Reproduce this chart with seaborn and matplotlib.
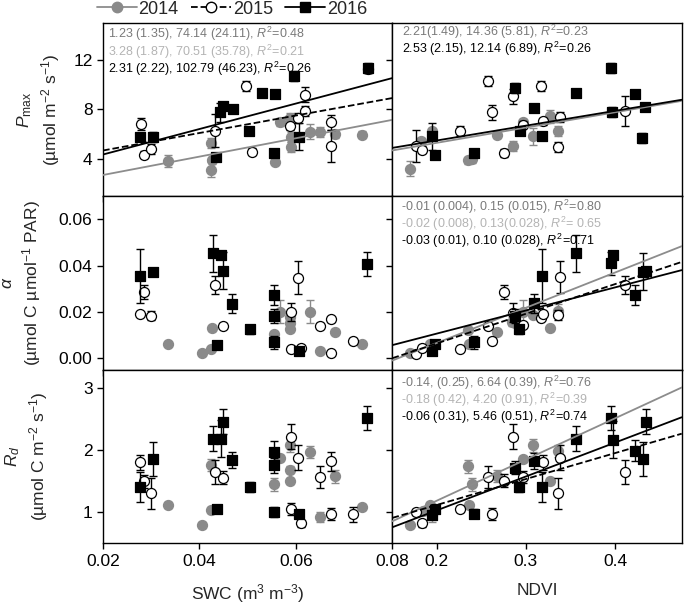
import matplotlib
matplotlib.use("Agg")
import matplotlib.pyplot as plt
from matplotlib.lines import Line2D
import numpy as np
import pandas as pd
import seaborn as sns

years = ["2014", "2015", "2016"]

# Pmax vs SWC
pmaxSwcX14 = [0.0335, 0.0423, 0.0423, 0.0427, 0.0557, 0.0566, 0.0587, 0.0589, 0.0590, 0.0630, 0.0650, 0.0682, 0.0738]
pmaxSwcY14 = [3.82, 3.15, 5.30, 3.90, 3.80, 7.00, 7.30, 5.80, 4.95, 6.20, 6.20, 6.00, 5.97]
pmaxSwcE14 = [0.5, 0.6, 0.4, 0.3, 0.2, 0.3, 0.4, 0.4, 0.4, 0.6, 0.4, 0.3, 0.3]
pmaxSwcX15 = [0.0278, 0.0285, 0.0299, 0.0432, 0.0497, 0.0509, 0.0587, 0.0604, 0.0618, 0.0618, 0.0672, 0.0672, 0.0750]
pmaxSwcY15 = [6.85, 4.36, 4.80, 6.30, 9.90, 4.60, 6.64, 7.30, 9.20, 7.85, 6.96, 5.08, 11.25]
pmaxSwcE15 = [0.5, 0.3, 0.4, 1.3, 0.4, 0.3, 0.3, 0.4, 0.6, 0.4, 0.6, 1.3, 0.3]
pmaxSwcX16 = [0.0276, 0.0304, 0.0434, 0.0443, 0.0449, 0.0469, 0.0502, 0.0530, 0.0555, 0.0556, 0.0595, 0.0606, 0.0749]
pmaxSwcY16 = [5.80, 5.80, 4.20, 7.76, 8.25, 8.06, 6.23, 9.32, 4.50, 9.27, 10.70, 5.80, 11.35]
pmaxSwcE16 = [0.3, 0.4, 0.3, 0.8, 0.3, 0.3, 0.3, 0.3, 0.3, 0.3, 0.4, 1.1, 0.4]

# Pmax vs NDVI
pmaxNdviX14 = [0.1693, 0.182, 0.1944, 0.2355, 0.239, 0.267, 0.286, 0.297, 0.3077, 0.327, 0.3364]
pmaxNdviY14 = [3.21, 5.43, 6.24, 3.9, 4.0, 5.97, 5.03, 6.96, 5.83, 7.44, 6.24]
pmaxNdviE14 = [0.6, 0.3, 0.3, 0.3, 0.3, 0.3, 0.4, 0.3, 0.7, 0.5, 0.4]
pmaxNdviX15 = [0.1768, 0.183, 0.226, 0.257, 0.2617, 0.2755, 0.285, 0.297, 0.317, 0.3196, 0.338, 0.3357, 0.411]
pmaxNdviY15 = [5.08, 4.76, 6.29, 10.26, 7.76, 4.5, 9.05, 6.77, 9.9, 7.04, 7.4, 4.95, 7.9]
pmaxNdviE15 = [1.3, 0.3, 0.4, 0.4, 0.6, 0.3, 0.6, 0.3, 0.4, 0.3, 0.4, 0.4, 1.2]
pmaxNdviX16 = [0.1944, 0.198, 0.242, 0.288, 0.293, 0.309, 0.3185, 0.356, 0.3955, 0.397, 0.4224, 0.43, 0.4336]
pmaxNdviY16 = [5.83, 4.36, 4.5, 9.72, 6.29, 8.11, 5.83, 9.32, 11.33, 7.76, 9.27, 5.7, 8.2]
pmaxNdviE16 = [1.1, 0.3, 0.3, 0.4, 0.3, 0.3, 0.3, 0.3, 0.4, 0.4, 0.3, 0.4, 0.3]

# alpha vs SWC
alphaSwcX14 = [0.0335, 0.0405, 0.0423, 0.0427, 0.0555, 0.0568, 0.0587, 0.0588, 0.0588, 0.063, 0.065, 0.0682, 0.0738]
alphaSwcY14 = [0.0062, 0.0024, 0.0039, 0.0129, 0.0105, 0.0201, 0.0154, 0.0125, 0.018, 0.0201, 0.0033, 0.0115, 0.0062]
alphaSwcE14 = [0.001, 0.001, 0.001, 0.001, 0.001, 0.005, 0.002, 0.001, 0.002, 0.005, 0.001, 0.001, 0.001]
alphaSwcX15 = [0.0276, 0.0285, 0.0299, 0.0432, 0.0448, 0.0589, 0.0589, 0.0604, 0.0611, 0.065, 0.0672, 0.0672, 0.0719]
alphaSwcY15 = [0.0191, 0.0285, 0.0184, 0.0317, 0.014, 0.0199, 0.0039, 0.0348, 0.0046, 0.014, 0.0168, 0.0022, 0.0076]
alphaSwcE15 = [0.001, 0.003, 0.002, 0.004, 0.001, 0.004, 0.001, 0.007, 0.001, 0.001, 0.001, 0.001, 0.001]
alphaSwcX16 = [0.0276, 0.0304, 0.0429, 0.0436, 0.0444, 0.0448, 0.0468, 0.0504, 0.0555, 0.0555, 0.0555, 0.0606, 0.0748]
alphaSwcY16 = [0.0355, 0.0371, 0.0453, 0.0058, 0.0446, 0.0378, 0.0236, 0.0125, 0.0273, 0.0183, 0.0068, 0.0029, 0.0407]
alphaSwcE16 = [0.0115, 0.001, 0.008, 0.001, 0.001, 0.008, 0.004, 0.002, 0.0045, 0.003, 0.003, 0.001, 0.005]

# alpha vs NDVI
alphaNdviX14 = [0.1693, 0.1918, 0.2344, 0.2366, 0.2673, 0.284, 0.2879, 0.2972, 0.3084, 0.3271, 0.3364]
alphaNdviY14 = [0.0022, 0.0062, 0.0122, 0.0062, 0.0115, 0.0158, 0.0151, 0.0201, 0.0187, 0.0129, 0.0206]
alphaNdviE14 = [0.001, 0.001, 0.001, 0.001, 0.001, 0.002, 0.001, 0.005, 0.001, 0.001, 0.003]
alphaNdviX15 = [0.1768, 0.1832, 0.2262, 0.2572, 0.2617, 0.2755, 0.2852, 0.2972, 0.317, 0.3196, 0.3357, 0.3383, 0.4112]
alphaNdviY15 = [0.0019, 0.0046, 0.0039, 0.0137, 0.0076, 0.0285, 0.0197, 0.0144, 0.0173, 0.0191, 0.0187, 0.035, 0.0317]
alphaNdviE15 = [0.001, 0.001, 0.001, 0.001, 0.001, 0.003, 0.004, 0.001, 0.001, 0.001, 0.002, 0.007, 0.004]
alphaNdviX16 = [0.1944, 0.1981, 0.2422, 0.2879, 0.2927, 0.3092, 0.3185, 0.3563, 0.3955, 0.3974, 0.4224, 0.431, 0.4344]
alphaNdviY16 = [0.0029, 0.0062, 0.0068, 0.0183, 0.0125, 0.0237, 0.0355, 0.0453, 0.041, 0.0446, 0.0273, 0.0374, 0.0378]
alphaNdviE16 = [0.001, 0.001, 0.003, 0.003, 0.002, 0.004, 0.0115, 0.008, 0.005, 0.001, 0.0045, 0.008, 0.001]

# Rd vs SWC
rdSwcX14 = [0.0335, 0.0405, 0.0423, 0.0423, 0.0555, 0.0568, 0.0587, 0.0588, 0.0588, 0.063, 0.065, 0.0682, 0.0738]
rdSwcY14 = [1.12, 0.8, 1.76, 1.04, 1.45, 1.88, 2.08, 1.69, 1.51, 1.97, 0.93, 1.58, 1.09]
rdSwcE14 = [0.05, 0.05, 0.1, 0.05, 0.1, 0.05, 0.1, 0.05, 0.05, 0.1, 0.08, 0.1, 0.05]
rdSwcX15 = [0.0276, 0.0285, 0.0299, 0.0432, 0.0448, 0.0589, 0.0589, 0.0604, 0.0611, 0.065, 0.0672, 0.0672, 0.0719]
rdSwcY15 = [1.81, 1.5, 1.31, 1.65, 1.56, 2.22, 1.05, 1.88, 0.82, 1.57, 1.82, 0.97, 0.97]
rdSwcE15 = [0.12, 0.1, 0.25, 0.2, 0.1, 0.2, 0.1, 0.2, 0.05, 0.18, 0.15, 0.1, 0.12]
rdSwcX16 = [0.0276, 0.0304, 0.0429, 0.0436, 0.0444, 0.0448, 0.0468, 0.0504, 0.0555, 0.0555, 0.0555, 0.0607, 0.0748]
rdSwcY16 = [1.41, 1.86, 2.19, 1.05, 2.19, 2.46, 1.84, 1.41, 1.98, 1.76, 1.0, 0.98, 2.52]
rdSwcE16 = [0.24, 0.28, 0.2, 0.05, 0.3, 0.2, 0.13, 0.08, 0.17, 0.12, 0.08, 0.05, 0.19]

# Rd vs NDVI
rdNdviX14 = [0.1693, 0.1843, 0.1918, 0.1944, 0.2344, 0.2366, 0.2393, 0.2673, 0.2879, 0.2972, 0.3084, 0.3271, 0.3364]
rdNdviY14 = [0.8, 1.02, 1.11, 0.95, 1.74, 1.12, 1.45, 1.59, 1.72, 1.86, 2.08, 1.51, 1.99]
rdNdviE14 = [0.05, 0.05, 0.05, 0.1, 0.1, 0.05, 0.1, 0.1, 0.05, 0.05, 0.1, 0.05, 0.1]
rdNdviX15 = [0.1768, 0.1832, 0.2262, 0.2572, 0.2617, 0.2755, 0.2852, 0.2972, 0.3196, 0.3357, 0.3383, 0.4112]
rdNdviY15 = [1.0, 0.82, 1.05, 1.57, 0.97, 1.51, 2.22, 1.57, 1.81, 1.31, 1.88, 1.65]
rdNdviE15 = [0.05, 0.05, 0.05, 0.18, 0.1, 0.1, 0.2, 0.1, 0.12, 0.25, 0.2, 0.2]
rdNdviX16 = [0.1944, 0.1981, 0.2422, 0.2879, 0.2927, 0.3092, 0.3185, 0.3563, 0.3955, 0.3974, 0.4224, 0.431, 0.4344]
rdNdviY16 = [0.96, 1.05, 0.98, 1.72, 1.41, 1.83, 1.41, 2.19, 2.52, 2.17, 1.99, 1.86, 2.46]
rdNdviE16 = [0.05, 0.05, 0.08, 0.1, 0.08, 0.13, 0.24, 0.2, 0.19, 0.3, 0.17, 0.28, 0.2]

# regression lines (intercept, slope) per year, None = no line
pmaxSwcFit = [(1.23, 74.14), (3.28, 70.51), (2.31, 102.79)]
pmaxNdviFit = [(2.85, 12.3), None, (3.11, 11.94)]
alphaNdviFit = [(-0.0238, 0.152), (-0.0192, 0.128), (-0.0093, 0.0997)]
rdNdviFit = [(-0.14, 6.64), (0.283, 4.18), (-0.06, 5.46)]

# equation text
pmaxSwcText = ["1.23 (1.35), 74.14 (24.11), $\\it{R}^2$=0.48",
               "3.28 (1.87), 70.51 (35.78), $\\it{R}^2$=0.21",
               "2.31 (2.22), 102.79 (46.23), $\\it{R}^2$=0.26"]
pmaxNdviText = ["2.21(1.49), 14.36 (5.81), $\\it{R}^2$=0.23",
                None,
                "2.53 (2.15), 12.14 (6.89), $\\it{R}^2$=0.26"]
alphaNdviText = ["-0.01 (0.004), 0.15 (0.015), $\\it{R}^2$=0.80",
                 "-0.02 (0.008), 0.13(0.028), $\\it{R}^2$= 0.65",
                 "-0.03 (0.01), 0.10 (0.028), $\\it{R}^2$=0.71"]
rdNdviText = ["-0.14, (0.25), 6.64 (0.39), $\\it{R}^2$=0.76",
              "-0.18 (0.42), 4.20 (0.91), $\\it{R}^2$=0.39",
              "-0.06 (0.31), 5.46 (0.51), $\\it{R}^2$=0.74"]

markerStyles = {"2014": ("o", "#8a8a8a", "#8a8a8a"),
                "2015": ("o", "white", "black"),
                "2016": ("s", "black", "black")}
errColors = {"2014": "#8a8a8a", "2015": "black", "2016": "black"}
lineStyles = {"2014": ("#8c8c8c", "-"), "2015": ("black", "--"), "2016": ("black", "-")}
textColors = ["#7a7a7a", "#b4b4b4", "black"]


def makePanel(ax, xs, ys, es, fits, xlim):
    for i, year in enumerate(years):
        df = pd.DataFrame({"x": xs[i], "y": ys[i], "err": es[i]})
        marker, face, edge = markerStyles[year]
        ax.errorbar(df["x"], df["y"], yerr=df["err"], fmt="none", ecolor=errColors[year],
                    elinewidth=1, capsize=3, capthick=1, zorder=2 + 2 * i)
        sns.scatterplot(data=df, x="x", y="y", ax=ax, marker=marker, s=52, color=face,
                        edgecolor=edge, linewidth=0.9, zorder=3 + 2 * i, legend=False)
    if fits is not None:
        for i, year in enumerate(years):
            if fits[i] is None:
                continue
            a, b = fits[i]
            lineX = np.array(xlim)
            color, ls = lineStyles[year]
            sns.lineplot(x=lineX, y=a + b * lineX, ax=ax, color=color, linestyle=ls,
                         linewidth=1.3, zorder=10)
    ax.set_xlim(xlim)
    ax.set_xlabel("")
    ax.set_ylabel("")


def addText(ax, lines, xpos, ypos):
    for i, t in enumerate(lines):
        if t is None:
            continue
        ax.text(xpos, ypos[i], t, transform=ax.transAxes, color=textColors[i],
                fontsize=9, va="center", ha="left", zorder=20)


sns.set_theme(style="ticks")
plt.rcParams["font.family"] = ["Liberation Sans", "DejaVu Sans"]
plt.rcParams["mathtext.fontset"] = "custom"
plt.rcParams["mathtext.rm"] = "Liberation Sans"
plt.rcParams["mathtext.it"] = "Liberation Sans:italic"
plt.rcParams["mathtext.bf"] = "Liberation Sans:bold"

fig, axes = plt.subplots(3, 2, figsize=(6.85, 6.05), dpi=100, sharey="row")
plt.subplots_adjust(left=0.1504, right=0.9952, top=0.9625, bottom=0.102, wspace=0, hspace=0)

swcLim = (0.02, 0.08)
ndviLim = (0.15, 0.475)

makePanel(axes[0, 0], [pmaxSwcX14, pmaxSwcX15, pmaxSwcX16], [pmaxSwcY14, pmaxSwcY15, pmaxSwcY16],
          [pmaxSwcE14, pmaxSwcE15, pmaxSwcE16], pmaxSwcFit, swcLim)
makePanel(axes[0, 1], [pmaxNdviX14, pmaxNdviX15, pmaxNdviX16], [pmaxNdviY14, pmaxNdviY15, pmaxNdviY16],
          [pmaxNdviE14, pmaxNdviE15, pmaxNdviE16], pmaxNdviFit, ndviLim)
makePanel(axes[1, 0], [alphaSwcX14, alphaSwcX15, alphaSwcX16], [alphaSwcY14, alphaSwcY15, alphaSwcY16],
          [alphaSwcE14, alphaSwcE15, alphaSwcE16], None, swcLim)
makePanel(axes[1, 1], [alphaNdviX14, alphaNdviX15, alphaNdviX16], [alphaNdviY14, alphaNdviY15, alphaNdviY16],
          [alphaNdviE14, alphaNdviE15, alphaNdviE16], alphaNdviFit, ndviLim)
makePanel(axes[2, 0], [rdSwcX14, rdSwcX15, rdSwcX16], [rdSwcY14, rdSwcY15, rdSwcY16],
          [rdSwcE14, rdSwcE15, rdSwcE16], None, swcLim)
makePanel(axes[2, 1], [rdNdviX14, rdNdviX15, rdNdviX16], [rdNdviY14, rdNdviY15, rdNdviY16],
          [rdNdviE14, rdNdviE15, rdNdviE16], rdNdviFit, ndviLim)

addText(axes[0, 0], pmaxSwcText, 0.017, [0.938, 0.833, 0.733])
addText(axes[0, 1], pmaxNdviText, 0.033, [0.945, None, 0.847])
addText(axes[1, 1], alphaNdviText, 0.031, [0.941, 0.843, 0.740])
addText(axes[2, 1], rdNdviText, 0.031, [0.925, 0.826, 0.730])

axes[0, 0].set_ylim(1.0, 15.0)
axes[0, 0].set_yticks([4, 8, 12], ["4", "8", "12"])
axes[1, 0].set_ylim(-0.005, 0.070)
axes[1, 0].set_yticks([0.0, 0.02, 0.04, 0.06], ["0.00", "0.02", "0.04", "0.06"])
axes[2, 0].set_ylim(0.5, 3.3)
axes[2, 0].set_yticks([1, 2, 3], ["1", "2", "3"])

for row in range(3):
    axes[row, 0].set_xticks([0.02, 0.04, 0.06, 0.08], ["0.02", "0.04", "0.06", "0.08"])
    axes[row, 1].set_xticks([0.2, 0.3, 0.4], ["0.2", "0.3", "0.4"])
    for col in range(2):
        ax = axes[row, col]
        ax.tick_params(direction="out", length=4.5, width=1, labelsize=12.5, colors="black", pad=3)
        for sp in ax.spines.values():
            sp.set_visible(True)
            sp.set_linewidth(1)
            sp.set_color("black")
        if row < 2:
            ax.tick_params(labelbottom=False)
        if col == 1:
            ax.tick_params(labelleft=False)

axes[0, 0].set_ylabel("$\\it{P}_{\\rm max}$\n(µmol m$^{-2}$ s$^{-1}$)", fontsize=12.5, linespacing=1.3)
axes[1, 0].set_ylabel("$\\it{\\alpha}$\n(µmol C µmol$^{-1}$ PAR)", fontsize=12.5, linespacing=1.3)
axes[2, 0].set_ylabel("$\\it{R}_{\\it{d}}$\n(µmol C m$^{-2}$ s$^{-1}$)", fontsize=12.5, linespacing=1.3)
axes[0, 0].yaxis.set_label_coords(-0.142, 0.5)
axes[1, 0].yaxis.set_label_coords(-0.207, 0.5)
axes[2, 0].yaxis.set_label_coords(-0.183, 0.5)

axes[2, 0].set_xlabel("SWC (m$^3$ m$^{-3}$)", fontsize=12.5, labelpad=10)
axes[2, 1].set_xlabel("NDVI", fontsize=12.5, labelpad=10)

handles = [Line2D([], [], color="#8c8c8c", linestyle="-", marker="o", markersize=7.5,
                  markerfacecolor="#8a8a8a", markeredgecolor="#8a8a8a", linewidth=1.3),
           Line2D([], [], color="black", linestyle="--", marker="o", markersize=7.5,
                  markerfacecolor="white", markeredgecolor="black", linewidth=1.3),
           Line2D([], [], color="black", linestyle="-", marker="s", markersize=7,
                  markerfacecolor="black", markeredgecolor="black", linewidth=1.3)]
fig.legend(handles, years, loc="center", bbox_to_anchor=(232 / 685, 1 - 9 / 605), ncol=3,
           frameon=False, fontsize=13, handlelength=2.2, handletextpad=0.1, columnspacing=0.7,
           borderpad=0, borderaxespad=0)

plt.savefig("out.png", dpi=100)
plt.close()
